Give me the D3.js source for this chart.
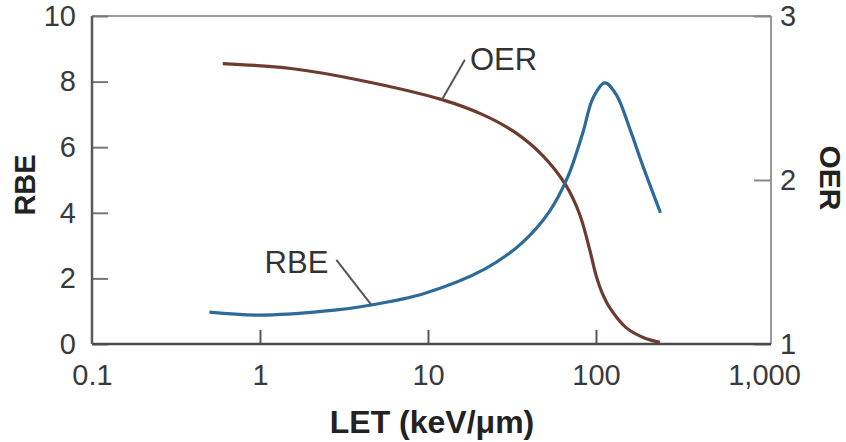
<!DOCTYPE html>
<html>
<head>
<meta charset="utf-8">
<script src="https://cdn.jsdelivr.net/npm/d3@7"></script>
<style>
  body { margin: 0; background: #fff; }
  svg text { font-family: "Liberation Sans", Arial, sans-serif; }
</style>
</head>
<body>
<div id="plotdiv"></div>
<script>
// RBE curve
var rbeLet = [0.5, 1.0, 2.4, 4.6, 9.6, 22, 36.6, 53, 68, 83.6, 96, 113, 132, 160, 191, 242];
var rbeVals = [0.97, 0.88, 1.0, 1.19, 1.55, 2.3, 3.1, 4.05, 5.1, 6.45, 7.5, 7.96, 7.6, 6.52, 5.4, 4.0];

// OER curve
var oerLet = [0.6, 1.53, 3.87, 12.1, 21, 33, 48, 66, 80, 92, 100, 108, 121, 151, 191, 240];
var oerVals = [2.71, 2.68, 2.61, 2.49, 2.4, 2.29, 2.15, 1.97, 1.79, 1.57, 1.42, 1.32, 1.22, 1.1, 1.04, 1.01];

var xTicks = [0.1, 1, 10, 100, 1000];
var xTickLabels = ["0.1", "1", "10", "100", "1,000"];
var rbeTicks = [0, 2, 4, 6, 8, 10];
var oerTicks = [1, 2, 3];

function drawChart()
{
	var width = 846, height = 442;
	var pLeft = 92, pRight = 771, pTop = 16, pBottom = 344;
	var rbeColor = "#2c6a99";
	var oerColor = "#6e3b2f";

	var svg = d3.select("#plotdiv").append("svg")
		.attr("width", width)
		.attr("height", height);

	var x = d3.scaleLog().domain([0.1, 1000]).range([pLeft, 764]);
	var yL = d3.scaleLinear().domain([0, 10]).range([pBottom, pTop]);
	var yR = d3.scaleLinear().domain([1, 3]).range([pBottom, pTop]);

	// frame: top and right lighter like the scan
	svg.append("line").attr("x1", pLeft).attr("x2", pRight).attr("y1", pTop).attr("y2", pTop)
		.attr("stroke", "#9a9a9a").attr("stroke-width", 2);
	svg.append("line").attr("x1", pRight).attr("x2", pRight).attr("y1", pTop).attr("y2", pBottom)
		.attr("stroke", "#9a9a9a").attr("stroke-width", 2);

	var xAxis = svg.append("g")
		.attr("transform", "translate(0," + pBottom + ")")
		.call(d3.axisBottom(x).tickValues(xTicks)
			.tickFormat(function(d, i){ return xTickLabels[i]; })
			.tickSize(-14).tickPadding(20));
	xAxis.select(".domain").remove();
	xAxis.selectAll(".tick line").attr("stroke", "#555").attr("stroke-width", 2)
		.style("display", function(d){ return (d == 0.1 || d == 1000) ? "none" : null; });

	var yAxisL = svg.append("g")
		.attr("transform", "translate(" + pLeft + ",0)")
		.call(d3.axisLeft(yL).tickValues(rbeTicks).tickSize(-16).tickPadding(16));
	yAxisL.select(".domain").remove();
	yAxisL.selectAll(".tick line").attr("stroke", "#777").attr("stroke-width", 2);

	var yAxisR = svg.append("g")
		.attr("transform", "translate(" + pRight + ",0)")
		.call(d3.axisRight(yR).tickValues(oerTicks).tickFormat(d3.format("d"))
			.tickSize(-17).tickPadding(9));
	yAxisR.select(".domain").remove();
	yAxisR.selectAll(".tick line").attr("stroke", "#888").attr("stroke-width", 2);

	svg.selectAll(".tick text")
		.attr("font-size", 29)
		.attr("font-family", "Liberation Sans, Arial, sans-serif")
		.attr("fill", "#3a3a3a");

	// bottom and left lines, darker
	svg.append("line").attr("x1", pLeft).attr("x2", pRight).attr("y1", pBottom).attr("y2", pBottom)
		.attr("stroke", "#4a4a4a").attr("stroke-width", 2.5);
	svg.append("line").attr("x1", pLeft).attr("x2", pLeft).attr("y1", pTop).attr("y2", pBottom)
		.attr("stroke", "#5a5a5a").attr("stroke-width", 2.5);

	var rbeLine = d3.line()
		.x(function(d){ return x(d[0]); })
		.y(function(d){ return yL(d[1]); })
		.curve(d3.curveCatmullRom.alpha(0.5));
	var oerLine = d3.line()
		.x(function(d){ return x(d[0]); })
		.y(function(d){ return yR(d[1]); })
		.curve(d3.curveCatmullRom.alpha(0.5));

	svg.append("path")
		.attr("d", oerLine(d3.zip(oerLet, oerVals)))
		.attr("fill", "none")
		.attr("stroke", oerColor)
		.attr("stroke-width", 3.2);

	svg.append("path")
		.attr("d", rbeLine(d3.zip(rbeLet, rbeVals)))
		.attr("fill", "none")
		.attr("stroke", rbeColor)
		.attr("stroke-width", 3.2);

	// curve labels with leader lines
	var oerAx = x(oerLet[3]), oerAy = yR(oerVals[3]);
	svg.append("line").attr("x1", oerAx).attr("y1", oerAy)
		.attr("x2", oerAx + 23).attr("y2", oerAy - 40)
		.attr("stroke", "#555").attr("stroke-width", 2);
	svg.append("text").attr("x", oerAx + 28).attr("y", oerAy - 30)
		.attr("font-size", 31).attr("fill", "#333").text("OER");

	var rbeAx = x(rbeLet[3]), rbeAy = yL(rbeVals[3]);
	svg.append("line").attr("x1", rbeAx).attr("y1", rbeAy)
		.attr("x2", rbeAx - 35).attr("y2", rbeAy - 45)
		.attr("stroke", "#555").attr("stroke-width", 2);
	svg.append("text").attr("x", rbeAx - 43).attr("y", rbeAy - 32)
		.attr("text-anchor", "end")
		.attr("font-size", 31).attr("fill", "#333").text("RBE");

	// axis titles
	svg.append("text")
		.attr("transform", "translate(35,185) rotate(-90)")
		.attr("text-anchor", "middle")
		.attr("font-size", 29).attr("font-weight", "bold").attr("fill", "#222")
		.text("RBE");
	svg.append("text")
		.attr("transform", "translate(820,178) rotate(90)")
		.attr("text-anchor", "middle")
		.attr("font-size", 30).attr("font-weight", "bold").attr("fill", "#222")
		.text("OER");
	svg.append("text")
		.attr("x", 432).attr("y", 433)
		.attr("text-anchor", "middle")
		.attr("font-size", 32).attr("font-weight", "bold").attr("fill", "#222")
		.text("LET (keV/\u03bcm)");
}

drawChart();
</script>
</body>
</html>
